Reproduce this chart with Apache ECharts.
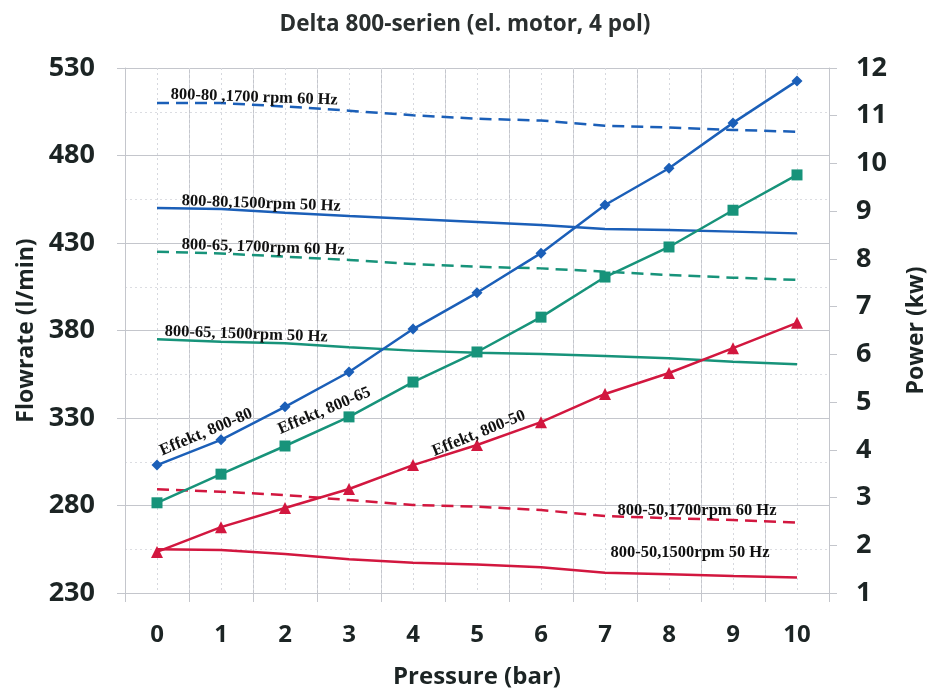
<!DOCTYPE html>
<html>
<head>
<meta charset="utf-8">
<script src="https://cdn.jsdelivr.net/npm/echarts@6/dist/echarts.min.js"></script>
<style>html,body{margin:0;padding:0;background:#fff}#c{width:930px;height:695px}</style>
</head>
<body>
<div id="c"></div>
<script>
var pressure = ['0','1','2','3','4','5','6','7','8','9','10'];
var flow80_1700 = [510, 510, 508, 505.6, 503, 501, 500, 497, 496, 494.6, 493.6];
var flow80_1500 = [450, 449.4, 447.3, 445.4, 443.7, 442, 440.3, 438, 437.4, 436.5, 435.5];
var flow65_1700 = [425, 424, 422.2, 420.3, 418, 416.4, 415.5, 413.6, 411.7, 410.2, 408.9];
var flow65_1500 = [375, 373.6, 372.7, 370.4, 368.5, 367.3, 366.6, 365.4, 364.1, 362.2, 360.7];
var flow50_1700 = [289.3, 287.9, 286, 283.1, 280.3, 279.3, 277.4, 274, 272.7, 271.7, 270.2];
var flow50_1500 = [255, 254.6, 252.3, 249.3, 247.3, 246.3, 244.7, 241.6, 240.7, 239.7, 238.8];
var power80 = [3.68, 4.21, 4.90, 5.63, 6.53, 7.29, 8.12, 9.13, 9.90, 10.85, 11.73];
var power65 = [2.89, 3.49, 4.08, 4.69, 5.42, 6.05, 6.78, 7.62, 8.25, 9.02, 9.76];
var power50 = [1.86, 2.38, 2.78, 3.18, 3.68, 4.10, 4.58, 5.17, 5.61, 6.13, 6.66];
var seriesNames = ['800-80 ,1700 rpm 60 Hz', '800-80,1500rpm 50 Hz', '800-65, 1700rpm 60 Hz', '800-65, 1500rpm 50 Hz',
                   '800-50,1700rpm 60 Hz', '800-50,1500rpm 50 Hz', 'Effekt, 800-80', 'Effekt, 800-65', 'Effekt, 800-50'];
var halfSteps = [];
for (var i = 0; i < pressure.length * 2; i++) { halfSteps.push(String(i)); }

var BLUE = '#1b5fb8', GREEN = '#17937a', RED = '#d2173f';
var annoFont = {fontFamily: 'Liberation Serif', fontWeight: 'bold', fontSize: 16.5, color: '#111'};

function anno(text, catIdx, val, off, rot) {
  return {
    symbol: 'circle', symbolSize: 0,
    itemStyle: {color: 'rgba(0,0,0,0)'},
    data: [{
      coord: [catIdx, val],
      label: Object.assign({show: true, formatter: text, position: 'inside', offset: off, rotate: rot}, annoFont)
    }]
  };
}

function flowSeries(name, data, color, dashed, mp) {
  return {
    name: name, type: 'line', xAxisIndex: 0, yAxisIndex: 0, data: data,
    symbol: 'none', smooth: false,
    lineStyle: {color: color, width: 2.5, type: dashed ? [12, 7] : 'solid'},
    itemStyle: {color: color},
    markPoint: mp, z: 3
  };
}
function powerSeries(name, data, color, symbol, size, mp) {
  return {
    name: name, type: 'line', xAxisIndex: 0, yAxisIndex: 1, data: data,
    symbol: symbol, symbolSize: size, showAllSymbol: true,
    lineStyle: {color: color, width: 2.5},
    itemStyle: {color: color},
    markPoint: mp, z: 4
  };
}

var labelStyle = {fontFamily: 'Open Sans', fontWeight: 'bold', color: '#1c2424'};

var option = {
  animation: false,
  backgroundColor: '#fff',
  title: {
    text: 'Delta 800-serien (el. motor, 4 pol)', left: 'center', top: 8,
    textStyle: {fontFamily: 'Open Sans', fontWeight: 'bold', fontSize: 22.5, color: '#2a2f2f'}
  },
  grid: {left: 125, right: 101, top: 68, bottom: 102, containLabel: false, outerBoundsMode: 'none'},
  xAxis: [{
    type: 'category', data: pressure, boundaryGap: true,
    name: 'Pressure (bar)', nameLocation: 'middle', nameGap: 72,
    nameTextStyle: Object.assign({fontSize: 24}, labelStyle),
    axisLine: {show: true, lineStyle: {color: '#c4c6cc', width: 1}},
    axisTick: {show: true, length: 9, interval: 0, lineStyle: {color: '#c4c6cc'}},
    axisLabel: Object.assign({fontSize: 24, margin: 30, interval: 0}, labelStyle),
    splitLine: {show: true, interval: 0, lineStyle: {color: '#c4c6cc', width: 1}}
  }, {
    type: 'category', data: halfSteps, boundaryGap: true, position: 'bottom',
    axisLine: {show: false}, axisTick: {show: false}, axisLabel: {show: false},
    splitLine: {show: true, interval: 0, lineStyle: {color: '#d6d8de', width: 1, type: [2, 3]}}
  }],
  yAxis: [{
    type: 'value', min: 230, max: 530, interval: 50, position: 'left',
    name: 'Flowrate (l/min)', nameLocation: 'middle', nameGap: 86, nameRotate: 90,
    nameTextStyle: Object.assign({fontSize: 23}, labelStyle),
    axisLine: {show: true, lineStyle: {color: '#c4c6cc'}},
    axisTick: {show: true, length: 8, lineStyle: {color: '#c4c6cc'}},
    axisLabel: Object.assign({fontSize: 27, margin: 30}, labelStyle),
    splitLine: {show: true, lineStyle: {color: '#c4c6cc', width: 1}},
    minorTick: {show: false, splitNumber: 2},
    minorSplitLine: {show: true, lineStyle: {color: '#dcdde2', width: 1, type: [2, 3]}}
  }, {
    type: 'value', min: 1, max: 12, interval: 1, position: 'right',
    name: 'Power (kw)', nameLocation: 'middle', nameGap: 76, nameRotate: 90,
    nameTextStyle: Object.assign({fontSize: 23}, labelStyle),
    axisLine: {show: true, lineStyle: {color: '#c4c6cc'}},
    axisTick: {show: true, length: 8, lineStyle: {color: '#c4c6cc'}},
    axisLabel: Object.assign({fontSize: 27, margin: 27}, labelStyle),
    splitLine: {show: false}
  }],
  series: [
    flowSeries(seriesNames[0], flow80_1700, BLUE, true, anno(seriesNames[0], 0, flow80_1700[0], [97, -9], -2)),
    flowSeries(seriesNames[1], flow80_1500, BLUE, false, anno(seriesNames[1], 0, flow80_1500[0], [104, -8], -2)),
    flowSeries(seriesNames[2], flow65_1700, GREEN, true, anno(seriesNames[2], 0, flow65_1700[0], [106, -8], -2)),
    flowSeries(seriesNames[3], flow65_1500, GREEN, false, anno(seriesNames[3], 0, flow65_1500[0], [89, -8], -2)),
    flowSeries(seriesNames[4], flow50_1700, RED, true, anno(seriesNames[4], 8, flow50_1700[8], [28, -8], 0)),
    flowSeries(seriesNames[5], flow50_1500, RED, false, anno(seriesNames[5], 8, flow50_1500[8], [21, -22], 0)),
    powerSeries(seriesNames[6], power80, BLUE, 'diamond', 11, anno(seriesNames[6], 0, power80[0], [58, -11], 23)),
    powerSeries(seriesNames[7], power65, GREEN, 'rect', 11, anno(seriesNames[7], 2, power65[2], [50, -17], 23)),
    powerSeries(seriesNames[8], power50, RED, 'triangle', 12, anno(seriesNames[8], 5, power50[5], [6, -10], 22))
  ]
};
var chart = echarts.init(document.getElementById('c'));
chart.setOption(option);
</script>
</body>
</html>
